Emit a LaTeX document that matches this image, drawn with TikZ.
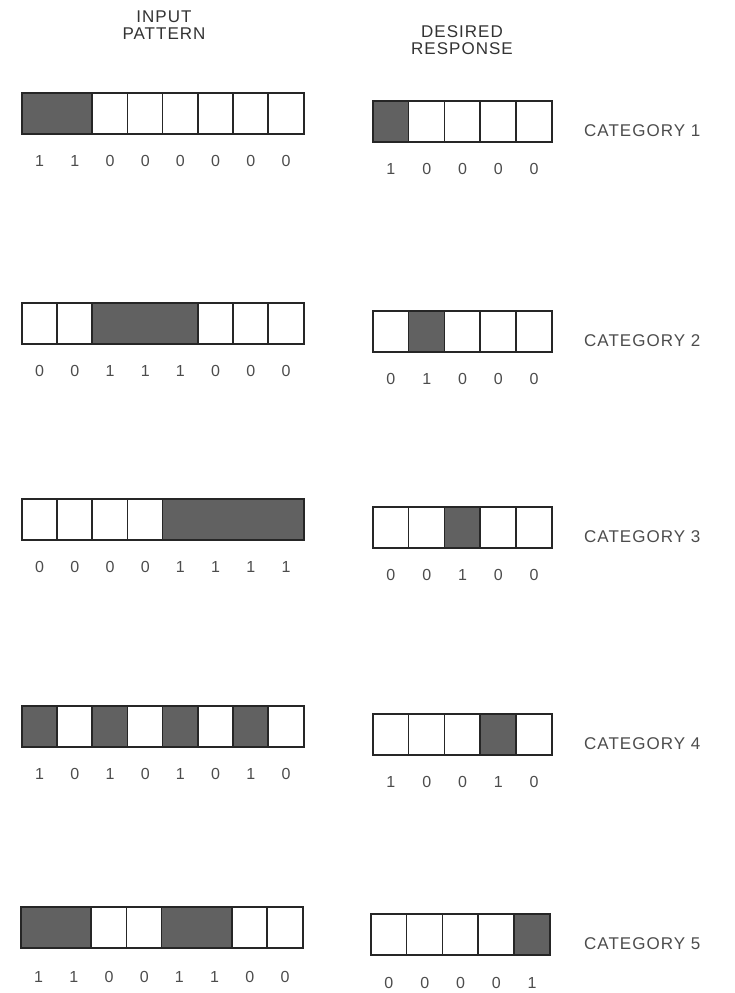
\documentclass[tikz,border=0pt]{standalone}
\usepackage{fontspec}
\setmainfont{Liberation Sans}
\newfontfamily\headfont[LetterSpace=6]{Liberation Sans}
\newfontfamily\catfont[LetterSpace=6]{Liberation Sans}
\colorlet{bit0}{white}
\colorlet{bit1}{black!62}
\tikzset{
  cell/.style={rectangle, inner sep=0pt, minimum height=41pt, draw=none},
  frame/.style={line width=1.6pt, draw=black!85},
  digit/.style={font=\fontsize{16}{16}\selectfont, text=black!70, inner sep=0pt},
  head/.style={font=\headfont\fontsize{17}{17}\selectfont, text=black!80, align=center, inner sep=0pt},
  cat/.style={font=\catfont\fontsize{17}{17}\selectfont, text=black!70, anchor=west, inner sep=0pt},
}
% #1 prefix, #2 x0, #3 top y, #4 cell width, #5 fill bits, #6 number of cells
\newcommand\drawbar[6]{%
  \foreach \b [count=\i, remember=\b as \pb (initially 0)] in {#5} {
    \node[cell, minimum width=#4pt, fill=bit\b] (#1-\i) at ({#2+(\i-0.5)*#4}, {#3+20.5}) {};
    \ifnum\i>1 \ifnum\numexpr\b*\pb\relax=0
      \draw[frame] (#1-\i.north west) -- (#1-\i.south west);
    \fi\fi
  }
  \draw[frame] (#1-1.north west) rectangle (#1-#6.south east);
}
% #1 prefix, #2 x0, #3 cell width, #4 y, #5 digits
\newcommand\drawdigits[5]{%
  \foreach \d [count=\i] in {#5} {
    \node[digit] (#1-d\i) at ({#2+(\i-0.5)*#3}, #4) {\d};
  }
}
\begin{document}
\begin{tikzpicture}[x=1pt,y=-1pt]
\useasboundingbox (0,0) rectangle (735,993);

\node[head] (inhead) at (164,25) {INPUT\\PATTERN};
\node[head] (outhead) at (462,40) {DESIRED\\RESPONSE};

% Category 1
\drawbar{inA}{22}{93}{35.2}{1,1,0,0,0,0,0,0}{8}
\drawdigits{inA}{22}{35.2}{161}{1,1,0,0,0,0,0,0}
\drawbar{outA}{373}{101}{35.8}{1,0,0,0,0}{5}
\drawdigits{outA}{373}{35.8}{169}{1,0,0,0,0}
\node[cat] (catA) at (584,131) {CATEGORY 1};

% Category 2
\drawbar{inB}{22}{303}{35.2}{0,0,1,1,1,0,0,0}{8}
\drawdigits{inB}{22}{35.2}{371}{0,0,1,1,1,0,0,0}
\drawbar{outB}{373}{311}{35.8}{0,1,0,0,0}{5}
\drawdigits{outB}{373}{35.8}{379}{0,1,0,0,0}
\node[cat] (catB) at (584,341) {CATEGORY 2};

% Category 3
\drawbar{inC}{22}{499}{35.2}{0,0,0,0,1,1,1,1}{8}
\drawdigits{inC}{22}{35.2}{567}{0,0,0,0,1,1,1,1}
\drawbar{outC}{373}{507}{35.8}{0,0,1,0,0}{5}
\drawdigits{outC}{373}{35.8}{575}{0,0,1,0,0}
\node[cat] (catC) at (584,537) {CATEGORY 3};

% Category 4
\drawbar{inD}{22}{706}{35.2}{1,0,1,0,1,0,1,0}{8}
\drawdigits{inD}{22}{35.2}{774}{1,0,1,0,1,0,1,0}
\drawbar{outD}{373}{714}{35.8}{0,0,0,1,0}{5}
\drawdigits{outD}{373}{35.8}{782}{1,0,0,1,0}
\node[cat] (catD) at (584,744) {CATEGORY 4};

% Category 5
\drawbar{inE}{21}{907}{35.2}{1,1,0,0,1,1,0,0}{8}
\drawdigits{inE}{21}{35.2}{977}{1,1,0,0,1,1,0,0}
\drawbar{outE}{371}{914}{35.8}{0,0,0,0,1}{5}
\drawdigits{outE}{371}{35.8}{983}{0,0,0,0,1}
\node[cat] (catE) at (584,944) {CATEGORY 5};
\end{tikzpicture}
\end{document}
